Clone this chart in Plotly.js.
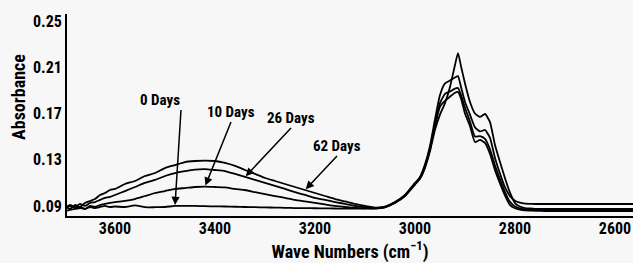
<!DOCTYPE html>
<html>
<head>
<meta charset="utf-8">
<script src="https://cdn.plot.ly/plotly-3.0.1.min.js"></script>
<style>html,body{margin:0;padding:0;background:#f7f7f7;}#chart{width:633px;height:263px;}</style>
</head>
<body>
<div id="chart"></div>
<script>
// Wave numbers (cm^-1), shared by all spectra
const wavenumbers = [
  3700, 3690, 3680, 3670, 3660, 3650, 3640, 3630, 3620, 3610,
  3600, 3580, 3560, 3540, 3520, 3500, 3480, 3460, 3440, 3420,
  3400, 3380, 3360, 3340, 3320, 3300, 3280, 3260, 3240, 3220,
  3200, 3180, 3160, 3140, 3120, 3100, 3080, 3060, 3040, 3020,
  3000, 2990, 2980, 2970, 2960, 2950, 2940, 2930, 2920,
  2914, 2908, 2900, 2890, 2880, 2870, 2860, 2850, 2840,
  2830, 2820, 2810, 2800, 2790, 2780, 2770, 2760,
  2740, 2700, 2660, 2620, 2580, 2560
];

const absorbance0Days = [
  0.0856, 0.0865, 0.0874, 0.0882, 0.0874, 0.0891, 0.0882, 0.0891, 0.0900, 0.0891,
  0.0895, 0.0891, 0.0905, 0.0889, 0.0889, 0.0891, 0.0900, 0.0900, 0.0900, 0.0898,
  0.0896, 0.0895, 0.0893, 0.0891, 0.0889, 0.0887, 0.0886, 0.0884, 0.0882, 0.0881,
  0.0880, 0.0879, 0.0878, 0.0877, 0.0877, 0.0878, 0.0880, 0.0890, 0.0925, 0.0985,
  0.1085, 0.1135, 0.1230, 0.1375, 0.1560, 0.1690, 0.1790, 0.1930, 0.2120,
  0.2223, 0.2110, 0.1960, 0.1800, 0.1700, 0.1670, 0.1696, 0.1626, 0.1427,
  0.1280, 0.1140, 0.1015, 0.0925, 0.0895, 0.0882, 0.0878, 0.0875,
  0.0874, 0.0874, 0.0874, 0.0874, 0.0874, 0.0874
];

const absorbance10Days = [
  0.0874, 0.0900, 0.0882, 0.0891, 0.0874, 0.0900, 0.0891, 0.0908, 0.0917, 0.0926,
  0.0934, 0.0943, 0.0960, 0.0986, 0.1012, 0.1029, 0.1047, 0.1055, 0.1064, 0.1068,
  0.1064, 0.1060, 0.1047, 0.1038, 0.1020, 0.1003, 0.0986, 0.0969, 0.0952, 0.0939,
  0.0926, 0.0913, 0.0900, 0.0891, 0.0884, 0.0880, 0.0878, 0.0888, 0.0930, 0.0990,
  0.1095, 0.1150, 0.1260, 0.1420, 0.1650, 0.1860, 0.1960, 0.1985, 0.2012,
  0.2024, 0.1930, 0.1800, 0.1690, 0.1580, 0.1545, 0.1557, 0.1490, 0.1315,
  0.1180, 0.1060, 0.0985, 0.0945, 0.0928, 0.0920, 0.0918, 0.0917,
  0.0917, 0.0917, 0.0917, 0.0917, 0.0917, 0.0917
];

const absorbance26Days = [
  0.0882, 0.0908, 0.0891, 0.0917, 0.0900, 0.0926, 0.0934, 0.0952, 0.0969, 0.0978,
  0.0995, 0.1029, 0.1064, 0.1099, 0.1125, 0.1159, 0.1185, 0.1202, 0.1215, 0.1219,
  0.1211, 0.1202, 0.1177, 0.1151, 0.1125, 0.1099, 0.1073, 0.1047, 0.1020, 0.0995,
  0.0969, 0.0952, 0.0934, 0.0917, 0.0900, 0.0889, 0.0882, 0.0892, 0.0932, 0.0992,
  0.1090, 0.1145, 0.1250, 0.1400, 0.1610, 0.1790, 0.1870, 0.1890, 0.1915,
  0.1920, 0.1860, 0.1750, 0.1630, 0.1500, 0.1505, 0.1480, 0.1390, 0.1250,
  0.1130, 0.1020, 0.0935, 0.0895, 0.0878, 0.0870, 0.0866, 0.0865,
  0.0865, 0.0865, 0.0865, 0.0865, 0.0865, 0.0865
];

const absorbance62Days = [
  0.0900, 0.0874, 0.0908, 0.0891, 0.0926, 0.0943, 0.0960, 0.0995, 0.1012, 0.1038,
  0.1047, 0.1090, 0.1116, 0.1159, 0.1185, 0.1228, 0.1254, 0.1280, 0.1289, 0.1293,
  0.1289, 0.1272, 0.1246, 0.1211, 0.1177, 0.1142, 0.1116, 0.1090, 0.1064, 0.1038,
  0.1012, 0.0986, 0.0960, 0.0939, 0.0917, 0.0900, 0.0886, 0.0895, 0.0934, 0.0995,
  0.1099, 0.1140, 0.1240, 0.1390, 0.1590, 0.1760, 0.1810, 0.1845, 0.1880,
  0.1886, 0.1830, 0.1700, 0.1590, 0.1453, 0.1471, 0.1445, 0.1350, 0.1210,
  0.1095, 0.0990, 0.0908, 0.0880, 0.0868, 0.0862, 0.0860, 0.0858,
  0.0856, 0.0856, 0.0856, 0.0856, 0.0856, 0.0856
];

const seriesNames = ["0 Days", "10 Days", "26 Days", "62 Days"];
const seriesValues = [absorbance0Days, absorbance10Days, absorbance26Days, absorbance62Days];

const yTickValues = [0.09, 0.13, 0.17, 0.21, 0.25];
const yTickLabels = ["0.09", "0.13", "0.17", "0.21", "0.25"];
const xTickValues = [3600, 3400, 3200, 3000, 2800, 2600];
const xTickLabels = ["3600", "3400", "3200", "3000", "2800", "2600"];

const xAxisTitle = 'Wave Numbers (cm<sup>−1</sup>)';
const yAxisTitle = 'Absorbance';

// label arrows: wavenumber on each curve the arrow points to, arrow tail (data units) and text anchoring
const labelArrowTipWn = [3480, 3420, 3340, 3220];
const labelTailPos = [[3468, 0.1730], [3368, 0.1626], [3248, 0.1574], [3156, 0.1332]];
const labelXAnchor = ['right', 'center', 'center', 'center'];

const FONT = '"Liberation Sans Narrow", "Arial Narrow", "Roboto Condensed", "Liberation Sans", Arial, sans-serif';

const traces = seriesValues.map((vals, i) => ({
  type: 'scatter', mode: 'lines', name: seriesNames[i],
  x: wavenumbers, y: vals,
  line: {color: '#000', width: 1.8, shape: 'spline', smoothing: 0.5},
  hoverinfo: 'skip'
}));

const annotations = seriesValues.map((vals, i) => {
  const idx = wavenumbers.indexOf(labelArrowTipWn[i]);
  return {
    xref: 'x', yref: 'y', x: wavenumbers[idx], y: vals[idx],
    axref: 'x', ayref: 'y', ax: labelTailPos[i][0], ay: labelTailPos[i][1],
    xanchor: labelXAnchor[i], yanchor: 'bottom',
    text: seriesNames[i], showarrow: true, arrowhead: 2, arrowsize: 1.1, arrowwidth: 1.5,
    arrowcolor: '#000', standoff: 1, borderpad: 0,
    font: {family: FONT, size: 15, color: '#000', weight: 'bold'}
  };
});
annotations.push({
  xref: 'paper', yref: 'paper', x: 0, xshift: -49, y: (216 - 97) / 202,
  xanchor: 'center', yanchor: 'middle', showarrow: false, textangle: -90,
  text: yAxisTitle,
  font: {family: FONT, size: 18, color: '#000', weight: 'bold'}
});

const layout = {
  width: 633, height: 263,
  margin: {l: 67, r: 0, t: 14, b: 47, pad: 0},
  paper_bgcolor: '#f7f7f7', plot_bgcolor: '#f7f7f7',
  showlegend: false,
  xaxis: {
    range: [3696, 2564], showgrid: false, zeroline: false,
    showline: true, linecolor: '#000', linewidth: 2,
    ticks: '', tickvals: xTickValues, ticktext: xTickLabels,
    tickfont: {family: FONT, size: 16, color: '#000', weight: 'bold'},
    ticklabelstandoff: -3,
    title: {text: xAxisTitle, standoff: 6,
            font: {family: FONT, size: 18, color: '#000', weight: 'bold'}}
  },
  yaxis: {
    range: [0.0813, 0.2561], showgrid: false, zeroline: false,
    showline: true, linecolor: '#000', linewidth: 2,
    ticks: '', tickvals: yTickValues, ticktext: yTickLabels,
    tickfont: {family: FONT, size: 16, color: '#000', weight: 'bold'},
    ticklabelstandoff: 0
  },
  annotations: annotations
};

Plotly.newPlot('chart', traces, layout, {displayModeBar: false, staticPlot: true});
</script>
</body>
</html>
